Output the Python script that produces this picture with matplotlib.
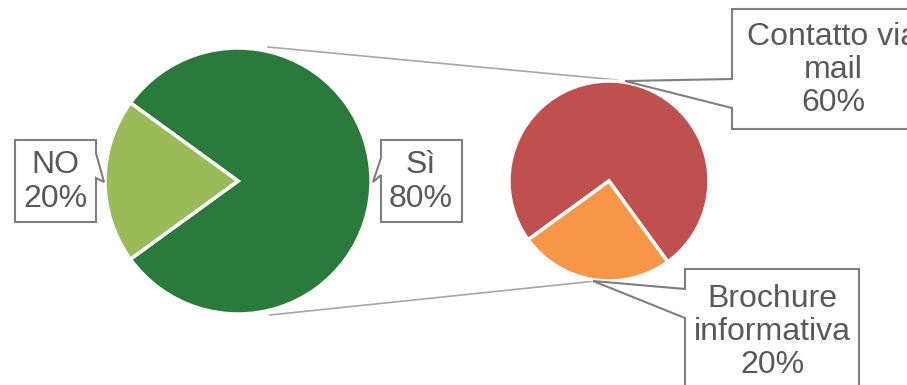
import matplotlib.pyplot as plt
from matplotlib.patches import Polygon

plt.rcParams['font.family'] = ['Liberation Sans', 'DejaVu Sans']

# dati
main_labels = ['Sì', 'NO']
main_values = [80, 20]
main_colors = ['#2A7B3B', '#9BBB59']

sub_labels = ['Contatto via\nmail', 'Brochure\ninformativa']
sub_values = [60, 20]
sub_colors = ['#C0504D', '#F79646']

fig = plt.figure(figsize=(9.07, 3.85), dpi=100)
ax = fig.add_axes([0, 0, 1, 1])

# torta principale
ax.pie(main_values, colors=main_colors, startangle=216, center=(238, 181), radius=133,
       wedgeprops=dict(edgecolor='white', linewidth=2.5), frame=True)
# torta secondaria
ax.pie(sub_values, colors=sub_colors, startangle=144, center=(609, 181), radius=100,
       wedgeprops=dict(edgecolor='white', linewidth=2.5), frame=True)
ax.set_xlim(0, 907)
ax.set_ylim(385, 0)  # coordinate in pixel, y verso il basso
ax.set_aspect('equal')
ax.axis('off')

# linee di collegamento
ax.plot([268, 617], [47, 80], color='#A6A6A6', lw=1.2, zorder=0)
ax.plot([270, 596], [315, 281], color='#A6A6A6', lw=1.2, zorder=0)


def callout(ax, x0, y0, x1, y1, side, p1, tip, p2):
    # rettangolo con punta (stile etichetta Excel)
    if side == 'right':
        pts = [(x0, y0), (x1, y0), (x1, p1), tip, (x1, p2), (x1, y1), (x0, y1)]
    else:
        pts = [(x0, y0), (x1, y0), (x1, y1), (x0, y1), (x0, p2), tip, (x0, p1)]
    ax.add_patch(Polygon(pts, closed=True, facecolor='white', edgecolor='#7F7F7F',
                         lw=1.5, zorder=5))


txt = dict(ha='center', va='center', fontsize=23, color='#595959', zorder=6,
           linespacing=1.14)

callout(ax, 15, 140, 96, 222, 'right', 153, (104, 182), 178)
ax.text(55, 182, f'{main_labels[1]}\n{main_values[1]}%', **txt)

callout(ax, 381, 140, 462, 222, 'left', 158, (373, 182), 175)
ax.text(421, 182, f'{main_labels[0]}\n{main_values[0]}%', **txt)

callout(ax, 732, 9, 940, 129, 'left', 79, (625, 81), 108)
ax.text(833, 70, f'{sub_labels[0]}\n{sub_values[0]}%', **txt)

callout(ax, 685, 269, 859, 400, 'left', 289, (593, 281), 318)
ax.text(772, 332, f'{sub_labels[1]}\n{sub_values[1]}%', **txt)

fig.savefig('out.png', dpi=100)
